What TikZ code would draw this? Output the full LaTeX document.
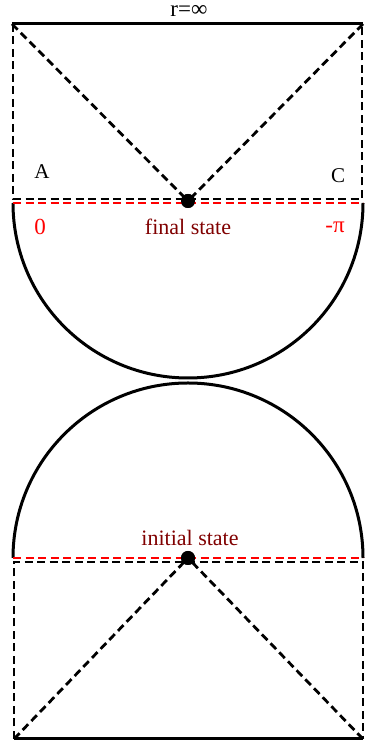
\documentclass[tikz,border=0pt]{standalone}
\usepackage{fontspec}
\setmainfont{Liberation Serif}
\definecolor{escuro}{RGB}{128,0,0}
\begin{document}
\begin{tikzpicture}[
    x=1pt, y=1pt,
    % borda solida
    solida/.style={draw, line width=3pt},
    % linhas tracejadas pretas
    traco/.style={draw, line width=2.8pt, dash pattern=on 8pt off 4.5pt},
    % linha tracejada vermelha
    tracov/.style={draw=red, line width=2.8pt, dash pattern=on 8pt off 4.5pt},
    ponto/.style={circle, fill=black, inner sep=0pt, minimum size=14pt},
    rotulo/.style={font=\fontsize{21}{23}\selectfont, inner sep=0pt},
    estado/.style={font=\fontsize{22}{24}\selectfont, text=escuro, inner sep=0pt},
    angulo/.style={font=\fontsize{23}{25}\selectfont, text=red, inner sep=0pt}
]
\useasboundingbox (0,0) rectangle (364,743);

% ---- TOPO: ESTADO FINAL ----
\coordinate (tl) at (12,719);
\coordinate (tr) at (363,719);
\coordinate (ml) at (13,544);
\coordinate (mr) at (362,544);
\node[ponto] (final) at (188,542) {};

\draw[solida] (tl) -- (tr);
\draw[traco] (13,719) -- (ml) -- (mr) -- (362,719);
\draw[traco] (tl) -- (final.center);
\draw[traco] (tr) -- (final.center);

\coordinate (rl) at (13,540);
\coordinate (rr) at (363,540);
\draw[solida] (rl) arc[start angle=180, end angle=360, radius=175];
\draw[tracov] (rl) -- (rr);
\node[ponto] at (final) {};

\node[rotulo, anchor=base, font=\fontsize{23}{25}\selectfont] (rinf) at (189,726) {r=∞};
\node[rotulo] (la) at (42,571) {A};
\node[rotulo] (lc) at (338,567) {C};
\node[angulo] (zero) at (40,516) {0};
\node[angulo] (menospi) at (335,516) {-π};
\node[estado] (lfinal) at (188,516) {final state};

% ---- BASE: ESTADO INICIAL ----
\coordinate (bl) at (14,4);
\coordinate (br) at (363,4);
\coordinate (il) at (14,181);
\coordinate (ir) at (363,181);
\node[ponto] (inicial) at (188,185) {};

\draw[solida] (bl) -- (br);
\draw[traco] (bl) -- (il) -- (ir) -- (br);
\draw[traco] (bl) -- (inicial.center);
\draw[traco] (br) -- (inicial.center);

\coordinate (sl) at (13,185);
\coordinate (sr) at (363,185);
\draw[solida] (sl) arc[start angle=180, end angle=0, radius=175];
\draw[tracov] (sl) -- (sr);
\node[ponto] at (inicial) {};

\node[estado] (linicial) at (190,205) {initial state};

\end{tikzpicture}
\end{document}
